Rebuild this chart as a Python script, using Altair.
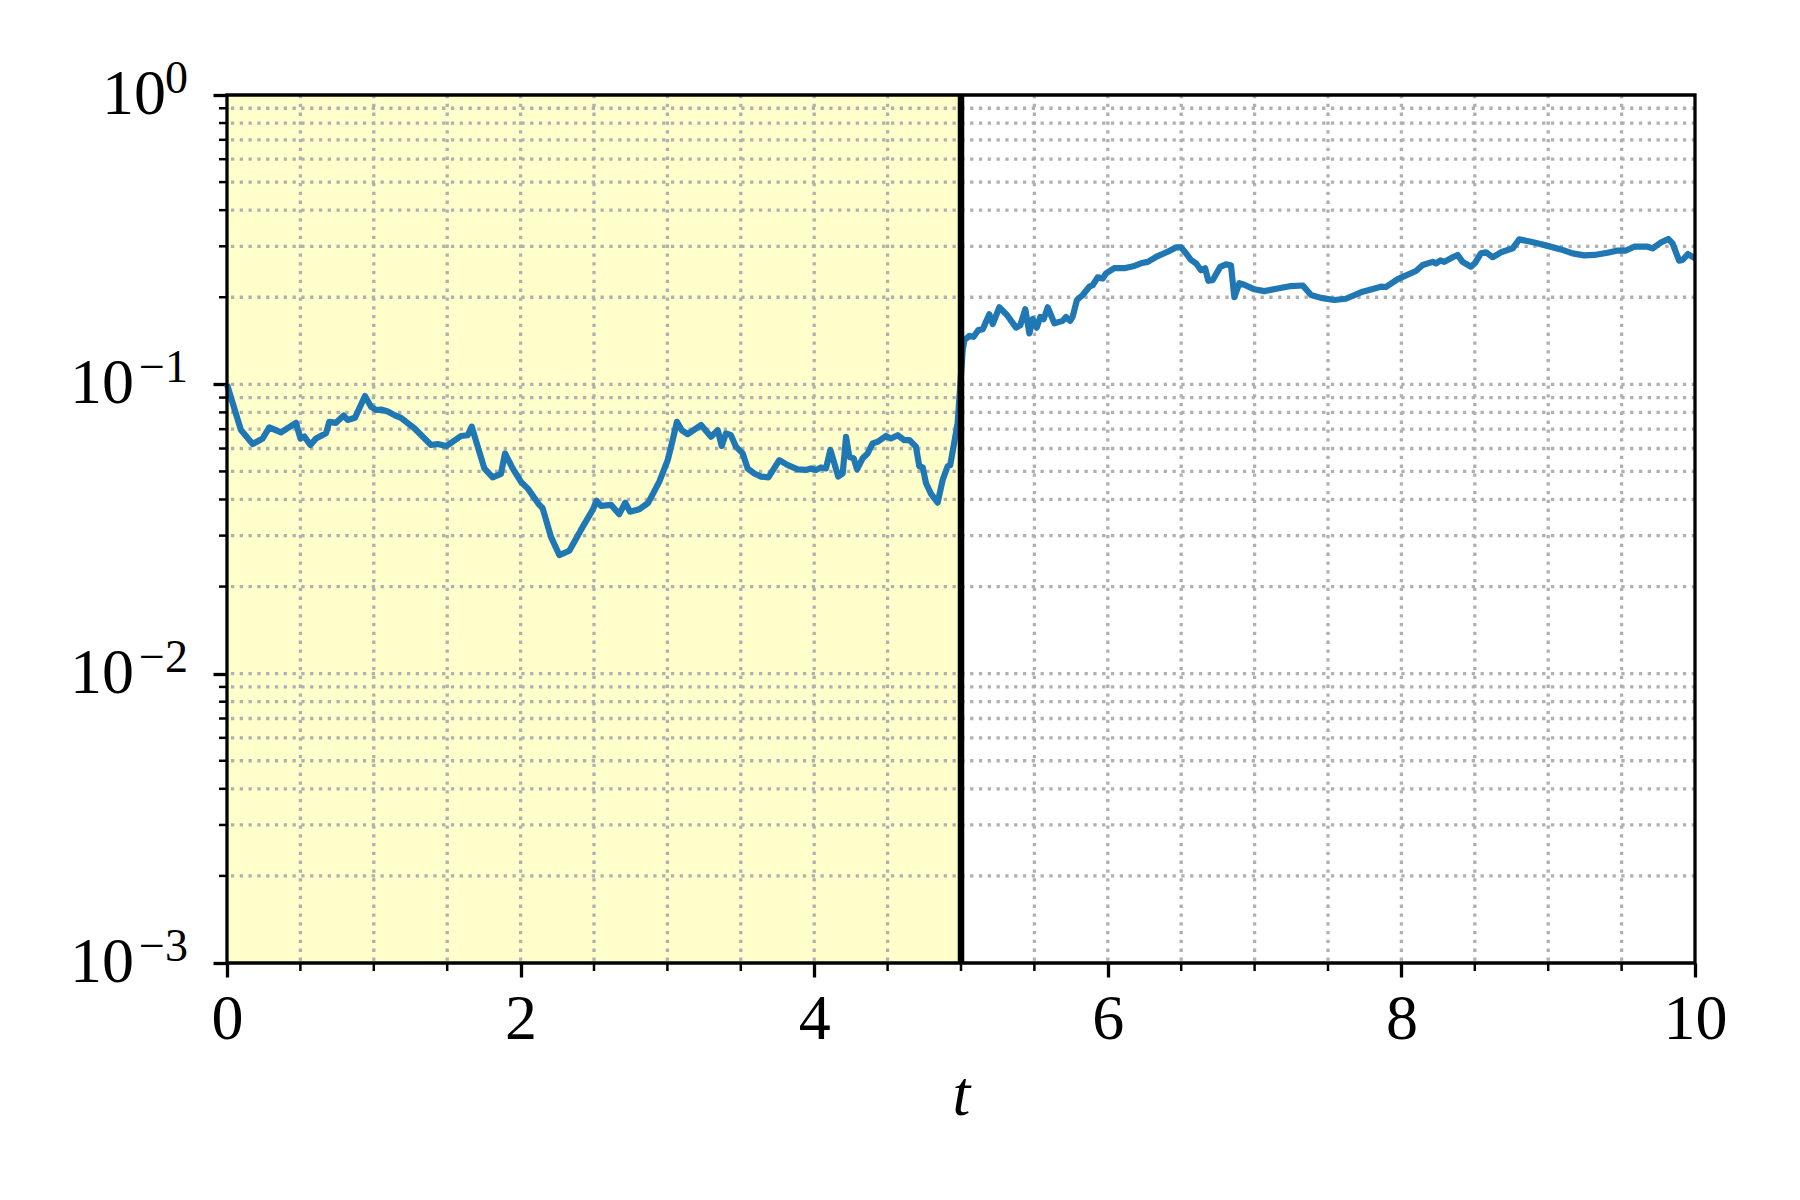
import altair as alt
import pandas as pd

# ---- data ----
t_vals = [0.00, 0.095, 0.175, 0.243, 0.288, 0.368, 0.47, 0.50, 0.527, 0.568, 0.606, 0.674, 0.697, 0.742,
          0.795, 0.822, 0.872, 0.94, 0.981, 1.015, 1.049, 1.095, 1.14, 1.185, 1.276, 1.39, 1.435, 1.492,
          1.537, 1.594, 1.64, 1.667, 1.708, 1.753, 1.81, 1.866, 1.894, 1.946, 2.003, 2.048, 2.128, 2.15,
          2.207, 2.264, 2.332, 2.411, 2.491, 2.518, 2.548, 2.616, 2.672, 2.713, 2.745, 2.809, 2.87, 2.945,
          3.002, 3.036, 3.065, 3.097, 3.138, 3.229, 3.297, 3.343, 3.37, 3.399, 3.433, 3.467, 3.513, 3.547,
          3.592, 3.638, 3.688, 3.762, 3.82, 3.888, 3.944, 3.978, 4.012, 4.046, 4.08, 4.11, 4.164, 4.194,
          4.217, 4.239, 4.269, 4.292, 4.33, 4.364, 4.398, 4.433, 4.489, 4.523, 4.569, 4.614, 4.648, 4.693,
          4.716, 4.739, 4.762, 4.796, 4.841, 4.875, 4.909, 4.927, 4.977, 5.012, 5.023, 5.057, 5.086, 5.118,
          5.148, 5.193, 5.216, 5.261, 5.313, 5.375, 5.404, 5.438, 5.466, 5.488, 5.516, 5.54, 5.563, 5.591,
          5.636, 5.693, 5.715, 5.743, 5.76, 5.79, 5.829, 5.874, 5.897, 5.931, 5.965, 5.988, 6.044, 6.112,
          6.181, 6.226, 6.272, 6.34, 6.408, 6.465, 6.499, 6.533, 6.567, 6.601, 6.635, 6.663, 6.685, 6.714,
          6.766, 6.805, 6.839, 6.862, 6.896, 6.93, 6.998, 7.066, 7.157, 7.248, 7.328, 7.384, 7.452, 7.543,
          7.622, 7.736, 7.861, 7.895, 7.975, 8.099, 8.145, 8.213, 8.236, 8.265, 8.292, 8.35, 8.383, 8.417,
          8.474, 8.5, 8.542, 8.576, 8.622, 8.678, 8.758, 8.803, 8.883, 8.996, 9.087, 9.166, 9.246, 9.314,
          9.405, 9.473, 9.53, 9.586, 9.677, 9.711, 9.768, 9.818, 9.847, 9.892, 9.915, 9.952, 10.0]
y_vals = [0.100, 0.0695, 0.0622, 0.065, 0.071, 0.0682, 0.0736, 0.065, 0.066, 0.0617, 0.065, 0.0677, 0.0742, 0.0736,
          0.078, 0.0753, 0.0766, 0.0911, 0.0837, 0.0815, 0.0818, 0.0805, 0.0783, 0.0766, 0.0705, 0.0617, 0.0622, 0.0612,
          0.0633, 0.0663, 0.0667, 0.0714, 0.0609, 0.0512, 0.0477, 0.049, 0.0577, 0.0512, 0.046, 0.0437, 0.0383, 0.0373,
          0.0297, 0.0257, 0.0266, 0.0314, 0.0368, 0.0396, 0.038, 0.0383, 0.0356, 0.039, 0.0363, 0.037, 0.039, 0.0461,
          0.0547, 0.0642, 0.0742, 0.0695, 0.0673, 0.0723, 0.0659, 0.0694, 0.0612, 0.0677, 0.0667, 0.0609, 0.0577, 0.0512,
          0.0492, 0.048, 0.0477, 0.0547, 0.0526, 0.0508, 0.0506, 0.0512, 0.0506, 0.0516, 0.0512, 0.0593, 0.048, 0.0492,
          0.0659, 0.0562, 0.0555, 0.0508, 0.0555, 0.0577, 0.0625, 0.0633, 0.0663, 0.065, 0.0667, 0.0641, 0.0642, 0.0609,
          0.0521, 0.0516, 0.0455, 0.0418, 0.039, 0.0467, 0.0521, 0.0526, 0.0733, 0.132, 0.142, 0.147, 0.146, 0.154,
          0.155, 0.1746, 0.1616, 0.1846, 0.1737, 0.157, 0.16, 0.1817, 0.15, 0.168, 0.157, 0.171, 0.168, 0.1846,
          0.1625, 0.1657, 0.171, 0.1657, 0.171, 0.1956, 0.2036, 0.2175, 0.22, 0.2344, 0.232, 0.242, 0.252, 0.252,
          0.2566, 0.262, 0.265, 0.2776, 0.2873, 0.2974, 0.2974, 0.2836, 0.269, 0.262, 0.248, 0.252, 0.228, 0.229,
          0.2547, 0.2598, 0.258, 0.200, 0.2235, 0.221, 0.213, 0.210, 0.2144, 0.2186, 0.2196, 0.2035, 0.199, 0.1956,
          0.1976, 0.209, 0.2175, 0.217, 0.231, 0.2465, 0.2585, 0.265, 0.262, 0.268, 0.265, 0.275, 0.28, 0.265,
          0.255, 0.262, 0.2836, 0.286, 0.275, 0.286, 0.295, 0.317, 0.311, 0.301, 0.2927, 0.2836, 0.279, 0.28,
          0.285, 0.29, 0.29, 0.299, 0.299, 0.295, 0.309, 0.318, 0.307, 0.2675, 0.269, 0.282, 0.2725]

span_start = [0.0]
span_end = [5.0]
vline_t = [5.0]

x_major = [0, 2, 4, 6, 8, 10]
x_minor = [0.5, 1, 1.5, 2.5, 3, 3.5, 4.5, 5, 5.5, 6.5, 7, 7.5, 8.5, 9, 9.5]
x_grid = [0.5, 1, 1.5, 2, 2.5, 3, 3.5, 4, 4.5, 5, 5.5, 6, 6.5, 7, 7.5, 8, 8.5, 9, 9.5]
y_major = [1.0, 0.1, 0.01, 0.001]
y_exp = ["0", "\u22121", "\u22122", "\u22123"]
y_minor = [m * 10.0 ** e for e in (-3, -2, -1) for m in range(2, 10)]
y_grid = y_minor + [0.01, 0.1]

# ---- layout ----
W, H = 1468, 868
FONT = "Liberation Serif"
GRID_COLOR = "#b0b0b0"
DASH = [3.3, 5.5]

xscale = alt.Scale(domain=[0, 10], nice=False, zero=False)
yscale = alt.Scale(type="log", domain=[0.001, 1], nice=False)

# one shared axis definition used by every layer (avoids axis=None disabling the merged axis)
X_AXIS = alt.Axis(
    values=x_major,
    title="t",
    titleFont=FONT,
    titleFontSize=64,
    titleFontStyle="italic",
    titleFontWeight="normal",
    titleColor="black",
    titlePadding=12,
    labelFont=FONT,
    labelFontSize=64,
    labelColor="black",
    labelPadding=10,
    labelOverlap=False,
    labelFlush=False,
    tickColor="black",
    tickSize=14,
    tickWidth=3.3,
    grid=False,
    domain=False,
)
Y_AXIS = alt.Axis(
    values=y_major,
    title=None,
    labels=False,
    tickColor="black",
    tickSize=14,
    tickWidth=3.3,
    grid=False,
    domain=False,
)

line_df = pd.DataFrame({"t": t_vals, "y": y_vals})
span_df = pd.DataFrame({"a": span_start, "b": span_end})
vline_df = pd.DataFrame({"t": vline_t})
xgrid_df = pd.DataFrame({"gx": x_grid})
ygrid_df = pd.DataFrame({"gy": y_grid})
xminor_df = pd.DataFrame({"mx": x_minor})
yminor_df = pd.DataFrame({"my": y_minor})
ylab_df = pd.DataFrame({"v": y_major, "base": ["10"] * 4, "ex": y_exp})
frame_df = pd.DataFrame({"k": [0]})

span = alt.Chart(span_df).mark_rect(color="#ffffcc").encode(
    x=alt.X("a:Q", scale=xscale, axis=X_AXIS),
    x2="b:Q",
)

xgrid = alt.Chart(xgrid_df).mark_rule(color=GRID_COLOR, strokeWidth=3.3, strokeDash=DASH).encode(
    x=alt.X("gx:Q", scale=xscale, axis=X_AXIS)
)
ygrid = alt.Chart(ygrid_df).mark_rule(color=GRID_COLOR, strokeWidth=3.3, strokeDash=DASH).encode(
    y=alt.Y("gy:Q", scale=yscale, axis=Y_AXIS)
)

line = alt.Chart(line_df).mark_line(color="#1f77b4", strokeWidth=6.2, strokeJoin="round").encode(
    x=alt.X("t:Q", scale=xscale, axis=X_AXIS),
    y=alt.Y("y:Q", scale=yscale, axis=Y_AXIS),
)

xminor = alt.Chart(xminor_df).mark_rule(color="black", strokeWidth=2.5).encode(
    x=alt.X("mx:Q", scale=xscale, axis=X_AXIS), y=alt.value(H), y2=alt.value(H + 8)
)
yminor = alt.Chart(yminor_df).mark_rule(color="black", strokeWidth=2.5).encode(
    y=alt.Y("my:Q", scale=yscale, axis=Y_AXIS), x=alt.value(-8), x2=alt.value(0)
)

vline = alt.Chart(vline_df).mark_rule(color="black", strokeWidth=6.5).encode(
    x=alt.X("t:Q", scale=xscale, axis=X_AXIS)
)

frame = alt.Chart(frame_df).mark_rect(filled=False, stroke="black", strokeWidth=3.3).encode(
    x=alt.value(0), x2=alt.value(W), y=alt.value(0), y2=alt.value(H)
)

base_neg = alt.Chart(ylab_df).transform_filter("datum.ex != '0'").mark_text(
    font=FONT, fontSize=64, align="right", baseline="middle", color="black"
).encode(y=alt.Y("v:Q", scale=yscale, axis=Y_AXIS), x=alt.value(-93), text="base:N")

base_zero = alt.Chart(ylab_df).transform_filter("datum.ex == '0'").mark_text(
    font=FONT, fontSize=64, align="right", baseline="middle", color="black"
).encode(y=alt.Y("v:Q", scale=yscale, axis=Y_AXIS), x=alt.value(-61), text="base:N")

expo = alt.Chart(ylab_df).mark_text(
    font=FONT, fontSize=46, align="right", baseline="alphabetic", color="black", dy=-2
).encode(y=alt.Y("v:Q", scale=yscale, axis=Y_AXIS), x=alt.value(-39), text="ex:N")

chart = alt.layer(span, xgrid, ygrid, line, vline, xminor, yminor, frame,
                  base_neg, base_zero, expo).properties(
    width=W,
    height=H,
    background="white",
    autosize=alt.AutoSizeParams(type="none"),
    padding={"left": 219, "top": 87, "right": 80, "bottom": 220},
).configure_view(stroke=None)

chart.save("out.html", embed_options={"renderer": "svg", "actions": False})
